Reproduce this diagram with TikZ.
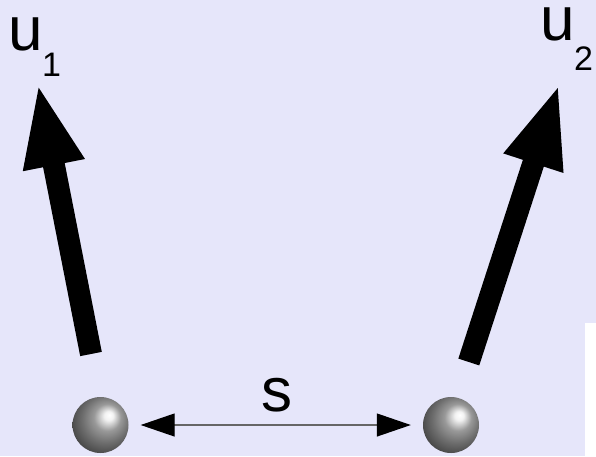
\documentclass[tikz,border=0pt]{standalone}
\usepackage{fontspec}
\setmainfont{Liberation Sans}
\usetikzlibrary{arrows.meta}
\definecolor{bgl}{RGB}{230,230,250}
\pgfdeclareradialshading{sphereR}{\pgfpoint{8bp}{9bp}}{color(0bp)=(white); color(4bp)=(white!95!black); color(12bp)=(black!40); color(21bp)=(black!57); color(30bp)=(black!72); color(40bp)=(black!80); color(50bp)=(black!82)}
\tikzset{
  ball/.style={circle, minimum size=56pt, inner sep=0pt, shading=sphereR},
  bigarrow/.style={line width=22pt, -{Triangle[length=84pt,width=56pt]}},
  sep/.style={draw=black!60, line width=1.2pt, {Triangle[length=34pt,width=23pt,color=black]}-{Triangle[length=34pt,width=23pt,color=black]}, shorten <=12pt, shorten >=12pt},
  big/.style={inner sep=0pt, text height=34pt, text depth=0pt, font=\fontsize{62}{62}\selectfont},
  sub/.style={inner sep=0pt, font=\fontsize{34}{34}\selectfont}
}
\begin{document}
\begin{tikzpicture}[x=1pt,y=-1pt]
\fill[bgl] (0,0) rectangle (596,456);
\fill[white] (585,323) rectangle (596,456);
\useasboundingbox (0,0) rectangle (596,456);
\node[ball] (L) at (100.5,425) {};
\node[ball] (R) at (451,425) {};
\draw[sep] (L) -- (R);
\node[big, anchor=base] (s) at (277,411) {s};
\coordinate (a1s) at (91,354);
\coordinate (a1t) at (37.7,82.7);
\coordinate (a2s) at (468.8,362);
\coordinate (a2t) at (559.3,83.3);
\draw[bigarrow] (a1s) -- (a1t);
\draw[bigarrow] (a2s) -- (a2t);
\node[big, anchor=base west] (u1) at (8,50) {u};
\node[sub, anchor=base west] (n1) at (42,76) {1};
\node[big, anchor=base west] (u2) at (540,40) {u};
\node[sub, anchor=base west] (n2) at (574,70) {2};
\end{tikzpicture}
\end{document}
